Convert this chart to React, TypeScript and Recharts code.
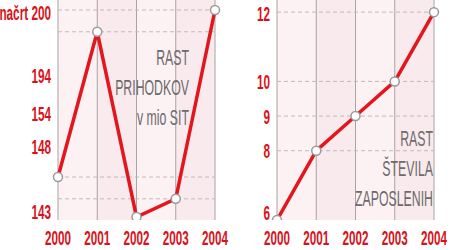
import React from 'react';
import { LineChart, Line, XAxis, YAxis, CartesianGrid, ReferenceLine } from 'recharts';

const years = ['2000', '2001', '2002', '2003', '2004'];
const revenue = [154, 194, 143, 148, 200];
const employees = [6, 8, 9, 10, 12];
const revenueTickLabels = ['načrt 200', '194', '154', '148', '143'];
const revenueTickAnchors = [199.3, 182.1, 171.6, 162.3, 144.4];
const employeeTickLabels = ['12', '10', '9', '8', '6'];
const employeeTickAnchors = [11.96, 10, 9, 8, 6.23];

const revenueData = years.map((y, i) => ({ year: y, value: revenue[i] }));
const employeeData = years.map((y, i) => ({ year: y, value: employees[i] }));

const RED = '#e3161e';
const LABEL_RED = '#d8121b';
const FONT = '"Liberation Sans", Arial, sans-serif';

const XTick = (props: any) => {
  const { x, y, payload } = props;
  return (
    <text
      transform={`translate(${x},${y + 17}) scale(0.6,1.08)`}
      textAnchor="middle"
      fill={LABEL_RED}
      fontFamily={FONT}
      fontWeight="bold"
      fontSize={19.5}
    >
      {payload.value}
    </text>
  );
};

const makeYTick = (anchors: number[], labels: string[]) => (props: any) => {
  const { x, y, payload } = props;
  const idx = anchors.indexOf(payload.value);
  return (
    <text
      transform={`translate(${x + 1},${y}) scale(0.56,1)`}
      textAnchor="end"
      dy="0.36em"
      fill={LABEL_RED}
      fontFamily={FONT}
      fontWeight="bold"
      fontSize={21}
    >
      {idx >= 0 ? labels[idx] : ''}
    </text>
  );
};

const Dot = (props: any) => {
  const { cx, cy } = props;
  return <circle cx={cx} cy={cy} r={4.5} fill="#ffffff" stroke="#9a9a9a" strokeWidth={1.5} />;
};

const Note = ({ x, y, lines }: { x: number; y: number; lines: string[] }) => (
  <>
    {lines.map((l, i) => (
      <text
        key={i}
        transform={`translate(${x},${y + i * 30}) scale(0.56,1)`}
        textAnchor="end"
        fill="#6e6a6b"
        fontFamily={FONT}
        fontSize={22}
      >
        {l}
      </text>
    ))}
  </>
);

const Panel = ({
  data,
  domain,
  anchors,
  labels,
  width,
  yWidth,
  marginRight,
}: any) => {
  const min = Math.min(...data.map((d: any) => d.value));
  return (
    <LineChart width={width} height={250} data={data} margin={{ top: 0, right: marginRight, left: 0, bottom: 0 }}>
      <CartesianGrid
        horizontal={false}
        vertical={true}
        stroke="#aaa2a4"
        strokeWidth={1}
        verticalFill={['#fcf2f4', '#f9eaed']}
        fillOpacity={1}
      />
      {data
        .filter((d: any) => d.value !== min)
        .map((d: any) => (
          <ReferenceLine key={d.year} y={d.value} stroke="#c4b8ba" strokeDasharray="4 3" />
        ))}
      <XAxis
        dataKey="year"
        axisLine={false}
        tickLine={false}
        height={30}
        interval={0}
        tick={<XTick />}
      />
      <YAxis
        type="number"
        domain={domain}
        ticks={anchors}
        allowDataOverflow
        axisLine={false}
        tickLine={false}
        width={yWidth}
        interval={0}
        tick={makeYTick(anchors, labels)}
      />
      <Line
        type="linear"
        dataKey="value"
        stroke={RED}
        strokeWidth={3.5}
        dot={<Dot />}
        isAnimationActive={false}
      />
    </LineChart>
  );
};

export default function App() {
  return (
    <div style={{ position: 'absolute', left: 0, top: 0, width: 450, height: 250, background: '#ffffff' }}>
      <div style={{ position: 'absolute', left: 0, top: 0 }}>
        <Panel
          data={revenueData}
          domain={[142.17, 202.75]}
          anchors={revenueTickAnchors}
          labels={revenueTickLabels}
          width={240}
          yWidth={58}
          marginRight={25}
        />
      </div>
      <div style={{ position: 'absolute', left: 225, top: 0 }}>
        <Panel
          data={employeeData}
          domain={[6, 12.35]}
          anchors={employeeTickAnchors}
          labels={employeeTickLabels}
          width={225}
          yWidth={52}
          marginRight={16}
        />
      </div>
      <svg
        width={450}
        height={250}
        style={{ position: 'absolute', left: 0, top: 0, pointerEvents: 'none' }}
      >
        <Note x={189} y={65} lines={['RAST', 'PRIHODKOV', 'v mio SIT']} />
        <Note x={433} y={146} lines={['RAST', 'ŠTEVILA', 'ZAPOSLENIH']} />
      </svg>
    </div>
  );
}
